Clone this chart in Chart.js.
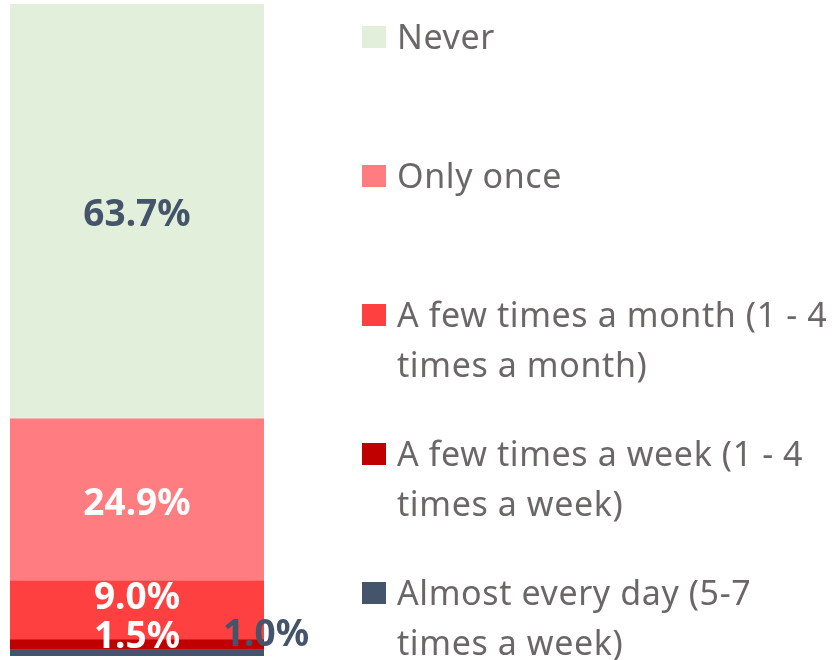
<!DOCTYPE html>
<html>
<head>
<meta charset="utf-8">
<script src="https://cdn.jsdelivr.net/npm/chart.js@4/dist/chart.umd.min.js"></script>
<style>
    html, body { margin: 0; padding: 0; background: #fff; }
    #wrap { position: relative; width: 837px; height: 660px; overflow: hidden; }
    #chart { position: absolute; left: 0; top: 0; }
    #legend { position: absolute; left: 0; top: 0; width: 837px; height: 660px; pointer-events: none; }
    .item { position: absolute; left: 362px; white-space: nowrap; }
    .box { position: absolute; left: 0; width: 24px; height: 22px; }
    .txt {
        position: absolute; left: 35px;
        font-family: "Noto Sans", sans-serif; font-size: 34px; line-height: 50px;
        letter-spacing: 0.6px;
        color: #6b6767;
    }
</style>
</head>
<body>
<div id="wrap">
    <canvas id="chart" width="837" height="660"></canvas>
    <div id="legend"></div>
</div>
<script>
// data, bottom of the stack first
const categories = ['Frequency'];
const seriesNames = [
    'Almost every day (5-7 times a week)',
    'A few times a week (1 - 4 times a week)',
    'A few times a month (1 - 4 times a month)',
    'Only once',
    'Never'
];
const seriesValues = [1.0, 1.5, 9.0, 24.9, 63.7];
const seriesColors = ['#44546A', '#C00000', '#FF4040', '#FF7C80', '#E2EFDA'];
const labelColors = ['#44546A', '#FFFFFF', '#FFFFFF', '#FFFFFF', '#44546A'];
// legend lines as wrapped in the original
const legendLines = [
    ['Almost every day (5-7', 'times a week)'],
    ['A few times a week (1 - 4', 'times a week)'],
    ['A few times a month (1 - 4', 'times a month)'],
    ['Only once'],
    ['Never']
];

const total = seriesValues.reduce((a, b) => a + b, 0);

// nudges for the small labels so they don't sit on top of each other
const labelShift = [
    { dx: 129, dy: -17 },
    { dx: 0, dy: -7 },
    { dx: 0, dy: -12 },
    { dx: 0, dy: 4 },
    { dx: 0, dy: 4 }
];

const valueLabels = {
    id: 'valueLabels',
    afterDatasetsDraw(chart) {
        const ctx = chart.ctx;
        ctx.save();
        ctx.font = 'bold 37px "Noto Sans", sans-serif';
        ctx.textAlign = 'center';
        ctx.textBaseline = 'middle';
        chart.data.datasets.forEach((ds, i) => {
            const bar = chart.getDatasetMeta(i).data[0];
            const cy = (bar.y + bar.base) / 2;
            ctx.fillStyle = labelColors[i];
            ctx.fillText(ds.data[0].toFixed(1) + '%', bar.x + labelShift[i].dx, cy + labelShift[i].dy);
        });
        ctx.restore();
    }
};

const datasets = seriesNames.map((name, i) => ({
    label: name,
    data: [seriesValues[i]],
    backgroundColor: seriesColors[i],
    borderWidth: 0,
    barPercentage: 1,
    categoryPercentage: 1
}));

const chart = new Chart(document.getElementById('chart').getContext('2d'), {
    type: 'bar',
    data: { labels: categories, datasets: datasets },
    options: {
        responsive: false,
        animation: false,
        layout: { padding: { left: 10, right: 573, top: 4, bottom: 4 } },
        plugins: { legend: { display: false }, tooltip: { enabled: false } },
        scales: {
            x: { stacked: true, display: false },
            y: { stacked: true, display: false, min: 0, max: total }
        }
    },
    plugins: [valueLabels]
});

// legend on the right, top entry first
const legend = document.getElementById('legend');
const order = chart.data.datasets.map((d, i) => i).reverse();
order.forEach((i, row) => {
    const mid = 37 + row * 139;
    const item = document.createElement('div');
    item.className = 'item';
    item.style.top = (mid - 11) + 'px';
    const box = document.createElement('div');
    box.className = 'box';
    box.style.background = chart.data.datasets[i].backgroundColor;
    const txt = document.createElement('div');
    txt.className = 'txt';
    txt.style.top = '-15px';
    txt.innerHTML = legendLines[i].join('<br>');
    item.appendChild(box);
    item.appendChild(txt);
    legend.appendChild(item);
});
</script>
</body>
</html>
